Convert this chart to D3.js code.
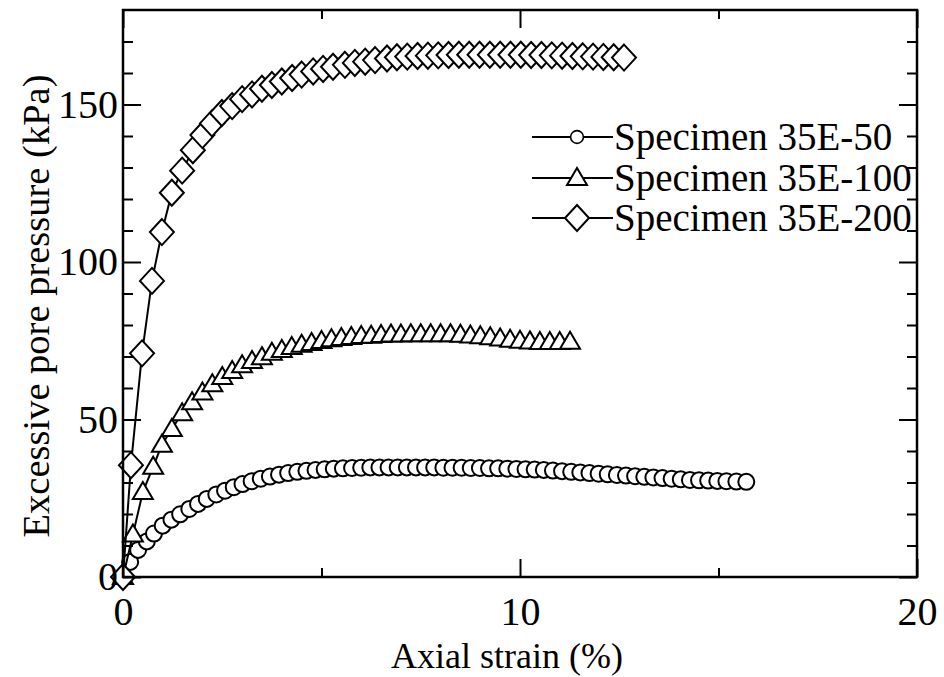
<!DOCTYPE html>
<html><head><meta charset="utf-8">
<script src="https://cdn.jsdelivr.net/npm/d3@7"></script>
<style>body{margin:0;background:#fff}svg{display:block}text{font-family:"Liberation Serif","Times New Roman",serif;fill:#000}</style>
</head><body>
<script>
const seriesNames = ["Specimen 35E-50", "Specimen 35E-100", "Specimen 35E-200"];
const xTicksMajor = [0, 10, 20];
const xTicksMinor = [5, 15];
const yTicksMajor = [0, 50, 100, 150];
const yTicksMinor = [10, 20, 30, 40, 60, 70, 80, 90, 110, 120, 130, 140, 160, 170];

const x50 = [0, 0.18, 0.38, 0.6, 0.78, 1.0, 1.22, 1.44, 1.67, 1.89, 2.11, 2.35, 2.57, 2.79, 3.01, 3.24, 3.47, 3.7, 3.93, 4.16, 4.39, 4.62, 4.85, 5.08, 5.31, 5.54, 5.77, 6.0, 6.23, 6.46, 6.69, 6.92, 7.15, 7.38, 7.61, 7.84, 8.07, 8.3, 8.53, 8.76, 8.99, 9.22, 9.45, 9.68, 9.91, 10.14, 10.37, 10.6, 10.83, 11.06, 11.29, 11.52, 11.75, 11.98, 12.21, 12.44, 12.67, 12.9, 13.13, 13.36, 13.59, 13.82, 14.05, 14.28, 14.51, 14.74, 14.97, 15.2, 15.45, 15.7];
const y50 = [0, 4.8, 8.6, 11.3, 13.8, 16.3, 18.2, 19.9, 21.6, 23.2, 24.8, 26.2, 27.4, 28.5, 29.5, 30.4, 31.2, 31.9, 32.5, 33.0, 33.4, 33.7, 34.0, 34.2, 34.4, 34.5, 34.6, 34.7, 34.8, 34.8, 34.8, 34.8, 34.8, 34.8, 34.8, 34.8, 34.7, 34.7, 34.7, 34.6, 34.6, 34.5, 34.5, 34.4, 34.3, 34.2, 34.1, 34.0, 33.8, 33.6, 33.4, 33.2, 33.0, 32.8, 32.6, 32.4, 32.2, 32.0, 31.8, 31.6, 31.4, 31.2, 31.0, 30.8, 30.7, 30.6, 30.5, 30.4, 30.3, 30.2];

const x100 = [0, 0.25, 0.5, 0.76, 0.98, 1.23, 1.49, 1.74, 2.0, 2.25, 2.5, 2.75, 3.0, 3.25, 3.5, 3.75, 4.0, 4.25, 4.5, 4.75, 5.0, 5.25, 5.5, 5.75, 6.0, 6.25, 6.5, 6.75, 7.0, 7.25, 7.5, 7.75, 8.0, 8.25, 8.5, 8.75, 9.0, 9.25, 9.5, 9.75, 10.0, 10.25, 10.5, 10.75, 11.0, 11.26];
const y100 = [0, 13.5, 27, 35, 42, 47, 52, 55.5, 58.6, 61.2, 63.5, 65.4, 67.2, 68.6, 69.8, 71.2, 72.1, 73, 73.7, 74.3, 74.9, 75.5, 75.9, 76.2, 76.5, 76.6, 76.8, 77, 77, 77.1, 77.1, 77.1, 77.1, 77.1, 76.9, 76.7, 76.4, 76.1, 75.7, 75.3, 75.0, 74.8, 74.6, 74.6, 74.6, 74.7];

const x200 = [0, 0.2, 0.48, 0.73, 0.98, 1.23, 1.49, 1.76, 2.0, 2.24, 2.49, 2.75, 3.0, 3.25, 3.5, 3.75, 4.0, 4.26, 4.5, 4.79, 5.04, 5.29, 5.59, 5.84, 6.1, 6.35, 6.65, 6.9, 7.16, 7.42, 7.68, 7.94, 8.2, 8.46, 8.72, 8.98, 9.24, 9.5, 9.76, 10.02, 10.28, 10.54, 10.8, 11.06, 11.32, 11.58, 11.84, 12.1, 12.36, 12.62];
const y200 = [0, 35.5, 71, 94, 109.5, 122, 129, 135.5, 140.3, 144, 147.3, 149.5, 151.7, 153.2, 155, 156.2, 157.3, 158.4, 159.5, 160.5, 161.3, 162, 162.6, 163.2, 163.6, 164.1, 164.6, 165, 165.2, 165.4, 165.5, 165.6, 165.7, 165.8, 165.8, 165.8, 165.8, 165.8, 165.8, 165.8, 165.7, 165.7, 165.6, 165.5, 165.4, 165.3, 165.2, 165.1, 165.0, 164.9, 164.8];

const W = 944, H = 677;
const L = 123, R = 917, T = 10, B = 577;
const svg = d3.select("body").append("svg").attr("width", W).attr("height", H);
const x = d3.scaleLinear().domain([0, 20]).range([L, R]);
const y = d3.scaleLinear().domain([0, 180]).range([B, T]);

const FS = 40;

function markerPath(type) {
  if (type === "circle") return d3.symbol(d3.symbolCircle, Math.PI * 8 * 8)();
  if (type === "triangle") return "M0,-10L10,7L-10,7Z";
  return "M0,-13L12,0L0,13L-12,0Z";
}
const types = ["circle", "triangle", "diamond"];
const data = [
  x50.map((v, i) => [v, y50[i]]),
  x100.map((v, i) => [v, y100[i]]),
  x200.map((v, i) => [v, y200[i]])
];

const line = d3.line().x(d => x(d[0])).y(d => y(d[1]));
data.forEach((pts, k) => {
  const g = svg.append("g");
  g.append("path").attr("d", line(pts)).attr("fill", "none").attr("stroke", "#000").attr("stroke-width", 2);
  g.selectAll("path.m").data(pts).enter().append("path").attr("class", "m")
    .attr("d", markerPath(types[k]))
    .attr("transform", d => `translate(${x(d[0])},${y(d[1])})`)
    .attr("fill", "#fff").attr("stroke", "#000").attr("stroke-width", 2);
});

// Legend
const legY = [137, 178, 218];
const leg = svg.append("g");
seriesNames.forEach((name, k) => {
  leg.append("line").attr("x1", 532).attr("x2", 613).attr("y1", legY[k]).attr("y2", legY[k])
    .attr("stroke", "#000").attr("stroke-width", 2);
  const sc = k === 0 ? 0.8 : 1;
  leg.append("path").attr("d", markerPath(types[k]))
    .attr("transform", `translate(577,${legY[k]}) scale(${sc})`)
    .attr("fill", "#fff").attr("stroke", "#000").attr("stroke-width", 2);
  leg.append("text").attr("x", 614).attr("y", legY[k]).attr("dy", "0.34em")
    .attr("font-size", 39).text(name);
});

// Axes (ticks inward)
function styleAxis(g) {
  g.select(".domain").remove();
  g.selectAll("line").attr("stroke", "#000").attr("stroke-width", 2);
  g.selectAll("text").attr("font-size", FS).attr("font-family", "Liberation Serif");
}
svg.append("g").attr("transform", `translate(0,${B})`)
  .call(d3.axisBottom(x).tickValues(xTicksMajor).tickSizeInner(-18).tickSizeOuter(0).tickPadding(20).tickFormat(d3.format("d")))
  .call(styleAxis);
svg.append("g").attr("transform", `translate(0,${B})`)
  .call(d3.axisBottom(x).tickValues(xTicksMinor).tickSizeInner(-9).tickSizeOuter(0).tickFormat(""))
  .call(styleAxis);
svg.append("g").attr("transform", `translate(0,${T})`)
  .call(d3.axisTop(x).tickValues(xTicksMajor).tickSizeInner(-18).tickSizeOuter(0).tickFormat(""))
  .call(styleAxis);
svg.append("g").attr("transform", `translate(0,${T})`)
  .call(d3.axisTop(x).tickValues(xTicksMinor).tickSizeInner(-9).tickSizeOuter(0).tickFormat(""))
  .call(styleAxis);
svg.append("g").attr("transform", `translate(${L},0)`)
  .call(d3.axisLeft(y).tickValues(yTicksMajor).tickSizeInner(-18).tickSizeOuter(0).tickPadding(5).tickFormat(d3.format("d")))
  .call(styleAxis);
svg.append("g").attr("transform", `translate(${L},0)`)
  .call(d3.axisLeft(y).tickValues(yTicksMinor).tickSizeInner(-10).tickSizeOuter(0).tickFormat(""))
  .call(styleAxis);
svg.append("g").attr("transform", `translate(${R},0)`)
  .call(d3.axisRight(y).tickValues(yTicksMajor).tickSizeInner(-18).tickSizeOuter(0).tickFormat(""))
  .call(styleAxis);
svg.append("g").attr("transform", `translate(${R},0)`)
  .call(d3.axisRight(y).tickValues(yTicksMinor).tickSizeInner(-10).tickSizeOuter(0).tickFormat(""))
  .call(styleAxis);

// Frame
svg.append("rect").attr("x", L).attr("y", T).attr("width", R - L).attr("height", B - T)
  .attr("fill", "none").attr("stroke", "#000").attr("stroke-width", 2.5);

// Axis titles
svg.append("text").attr("x", 507).attr("y", 668).attr("text-anchor", "middle")
  .attr("font-size", 36).text("Axial strain (%)");
svg.append("text").attr("transform", `translate(36,306) rotate(-90)`)
  .attr("text-anchor", "middle").attr("dy", "0.34em")
  .attr("font-size", 38.5).text("Excessive pore pressure (kPa)");
</script>
</body></html>
